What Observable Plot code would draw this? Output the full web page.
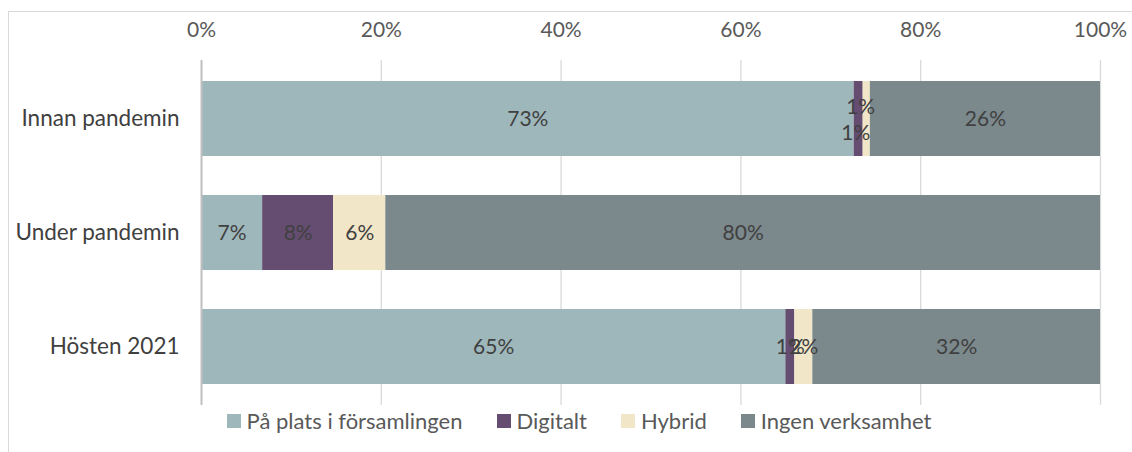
<!DOCTYPE html>
<html>
<head>
<meta charset="utf-8">
<script src="https://cdn.jsdelivr.net/npm/d3@7"></script>
<script src="https://cdn.jsdelivr.net/npm/@observablehq/plot@0.6"></script>
<style>
  html, body { margin: 0; padding: 0; background: #fff; }
  body { width: 1132px; height: 452px; position: relative; overflow: hidden; font-family: Lato, "Open Sans", sans-serif; }
  #frame { position: absolute; left: 8px; top: 11px; width: 1140px; height: 460px; border: 1px solid #d9d9d9; box-sizing: border-box; }
  #chart { position: absolute; left: 0; top: 0; }
  #legend { position: absolute; left: 13px; top: 407px; width: 1132px; display: flex; justify-content: center; font-size: 22px; line-height: 28px; color: #595959; }
  .item { display: flex; align-items: center; margin: 0 17px; }
  .sw { width: 14px; height: 14px; margin-right: 6px; }
</style>
</head>
<body>
<div id="frame"></div>
<div id="chart"></div>
<div id="legend"></div>
<script>
const periods = ["Innan pandemin", "Under pandemin", "Hösten 2021"];
const seriesNames = ["På plats i församlingen", "Digitalt", "Hybrid", "Ingen verksamhet"];
const seriesColors = ["#9eb7bb", "#654d71", "#f1e6c8", "#7b898c"];
const paPlats = [72.6, 6.8, 65.0];
const digitalt = [1.0, 7.9, 1.0];
const hybrid = [0.8, 5.8, 2.0];
const ingen = [25.6, 79.5, 32.0];
const xTicks = [0, 20, 40, 60, 80, 100];

const seriesValues = [paPlats, digitalt, hybrid, ingen];
const rows = [];
periods.forEach((p, i) => {
  seriesNames.forEach((s, j) => {
    rows.push({period: p, series: s, value: seriesValues[j][i]});
  });
});

const textColor = "#404040";
const font = "Lato, 'Open Sans', sans-serif";
const stackOpts = {x: "value", y: "period", z: "series", order: seriesNames};
const lbl = d => Math.round(d.value) + "%";
const isSmallTop = d => d.period === periods[0] && (d.series === seriesNames[1] || d.series === seriesNames[2]);

const chart = Plot.plot({
  width: 1132,
  height: 405,
  marginLeft: 201,
  marginRight: 32,
  marginTop: 60,
  marginBottom: 0,
  style: {fontFamily: font, fontSize: "21px", color: "#595959", background: "transparent"},
  x: {domain: [0, 100], label: null},
  y: {domain: periods, paddingInner: 0.339, paddingOuter: 0.17, label: null},
  color: {domain: seriesNames, range: seriesColors},
  marks: [
    Plot.ruleX(xTicks.filter(t => t > 0), {stroke: "#d9d9d9", strokeWidth: 1.3, strokeOpacity: 1}),
    Plot.barX(rows, Plot.stackX({...stackOpts, fill: "series"})),
    Plot.ruleX([0], {stroke: "#bfbfbf", strokeWidth: 2}),
    Plot.axisX({anchor: "top", ticks: xTicks, tickSize: 0, tickPadding: 24, tickFormat: d => d + "%", fontSize: 21, fill: "#595959", label: null}),
    Plot.axisY({tickSize: 0, tickPadding: 22, fontSize: 22.5, fill: "#404040", label: null}),
    Plot.text(rows, Plot.stackX({...stackOpts, text: d => isSmallTop(d) ? null : lbl(d), fill: textColor, fontSize: 21})),
    Plot.text(rows, Plot.stackX({...stackOpts, text: d => isSmallTop(d) && d.series === seriesNames[1] ? lbl(d) : null, fill: textColor, fontSize: 21, dy: -12, dx: 2})),
    Plot.text(rows, Plot.stackX({...stackOpts, text: d => isSmallTop(d) && d.series === seriesNames[2] ? lbl(d) : null, fill: textColor, fontSize: 21, dy: 14, dx: -11}))
  ]
});
document.getElementById("chart").appendChild(chart);

const legend = document.getElementById("legend");
seriesNames.forEach((s, i) => {
  const item = document.createElement("div");
  item.className = "item";
  const sw = document.createElement("div");
  sw.className = "sw";
  sw.style.background = seriesColors[i];
  const t = document.createElement("span");
  t.textContent = s;
  item.appendChild(sw);
  item.appendChild(t);
  legend.appendChild(item);
});
</script>
</body>
</html>
